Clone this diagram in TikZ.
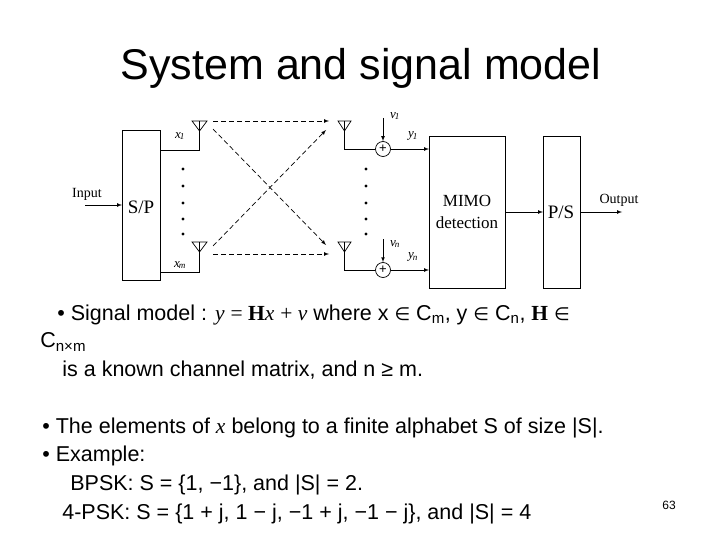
\documentclass[tikz,border=0pt]{standalone}
\usepackage{fontspec}
\setmainfont{Liberation Sans}
\newfontfamily\serif{Liberation Serif}
\newfontfamily\djvfont{DejaVu Sans}
\newcommand{\elem}{{\djvfont\fontsize{18}{18}\selectfont ∈}}
\begin{document}
\begin{tikzpicture}[x=1pt,y=-1pt,line width=0.7pt,
 ar/.style={-latex},
 dl/.style={dash pattern=on 5pt off 3pt,-latex},
 lab/.style={font=\serif\fontsize{14}{14}\selectfont,inner sep=0},
 dlab/.style={font=\serif\itshape\fontsize{13}{13}\selectfont,inner sep=0},
 body/.style={anchor=west,inner sep=0,font=\fontsize{21.5}{21.5}\selectfont},
 dot/.style={fill,circle,inner sep=1.1pt}]
\useasboundingbox (0,0) rectangle (720,540);
\node[font=\fontsize{43}{43}\selectfont] (title) at (361,68) {System and signal model};
% blocks
\draw (122,130) rectangle (160,280);
\node[lab,font=\serif\fontsize{19}{19}\selectfont] (sp) at (141,207) {S/P};
\draw (429,136) rectangle (505,288);
\node[lab,align=center,font=\serif\fontsize{17}{22}\selectfont] (mimo) at (467,212) {MIMO\\detection};
\draw (543,136) rectangle (580,288);
\node[lab,font=\serif\fontsize{19}{19}\selectfont] (ps) at (561,212) {P/S};
\node[lab] (in) at (87,194) {Input};
\coordinate (inS) at (85,205);
\draw[ar] (inS) -- (122,205);
\node[lab] (out) at (619,200) {Output};
\coordinate (outE) at (622,212);
\draw[ar] (505,212) -- (543,212);
\draw[ar] (580,212) -- (outE);
% tx antennas
\foreach \y/\b in {121/150, 242/272}{
 \draw (192,\y) -- (207,\y) -- (199.5,\y+10) -- cycle;
 \draw (199.5,\y) -- (199.5,\b) -- (160,\b);
}
\node[dlab] (x1) at (180,136) {x\textsubscript{\kern-1pt 1}};
\node[dlab] (xm) at (180,265) {x\textsubscript{\kern-1pt m}};
% rx antennas and adders
\foreach \y/\b/\p in {121/149/a, 242/270/b}{
 \draw (338,\y) -- (351,\y) -- (344.5,\y+10) -- cycle;
 \node[draw,circle,inner sep=0,minimum size=15pt] (add\p) at (383,\b) {};
 \node[inner sep=0,font=\fontsize{13}{13}\selectfont] at (383,\b) {+};
 \draw (344.5,\y) -- (344.5,\b) -- (add\p);
 \coordinate (n\p) at (383,\y-3);
 \draw[ar] (n\p) -- (add\p);
 \draw[ar] (add\p) -- (429,\b);
}
\node[dlab] (v1) at (395,116) {v\textsubscript{\kern-1pt 1}};
\node[dlab] (vn) at (395,244) {v\textsubscript{\kern-1pt n}};
\node[dlab] (y1) at (413,136) {y\textsubscript{\kern-1pt 1}};
\node[dlab] (yn) at (413,257) {y\textsubscript{\kern-1pt n}};
% dashed channel
\draw[dl] (213,121) -- (329,121);
\draw[dl] (213,254) -- (329,254);
\draw[dl] (213,129) -- (326,245);
\draw[dl] (213,246) -- (326,130);
% dots
\foreach \y in {169,186,203,219,234}{\node[dot] at (183,\y) {}; \node[dot] at (366,\y) {};}
% body text
\node[body] (l1) at (57,315) {• Signal model : {\serif\itshape y} {\serif= \textbf{\upshape H}\itshape x} {\serif+ \itshape v} where x \elem{} C\textsubscript{m}, y \elem{} C\textsubscript{n}, {\serif\bfseries H} \elem};
\node[body] (l2) at (40,342) {C\textsubscript{n×m}};
\node[body] (l3) at (62,370) {is a known channel matrix, and n ≥ m.};
\node[body] (l4) at (42,428) {• The elements of {\serif\itshape x} belong to a finite alphabet S of size |S|.};
\node[body] (l5) at (42,456) {• Example:};
\node[body] (l6) at (70,485) {BPSK: S = \{1, −1\}, and |S| = 2.};
\node[body] (l7) at (62,514) {4-PSK: S = \{1 + j, 1 − j, −1 + j, −1 − j\}, and |S| = 4};
\node[font=\fontsize{12}{12}\selectfont] (pg) at (669,505) {63};
\end{tikzpicture}
\end{document}
